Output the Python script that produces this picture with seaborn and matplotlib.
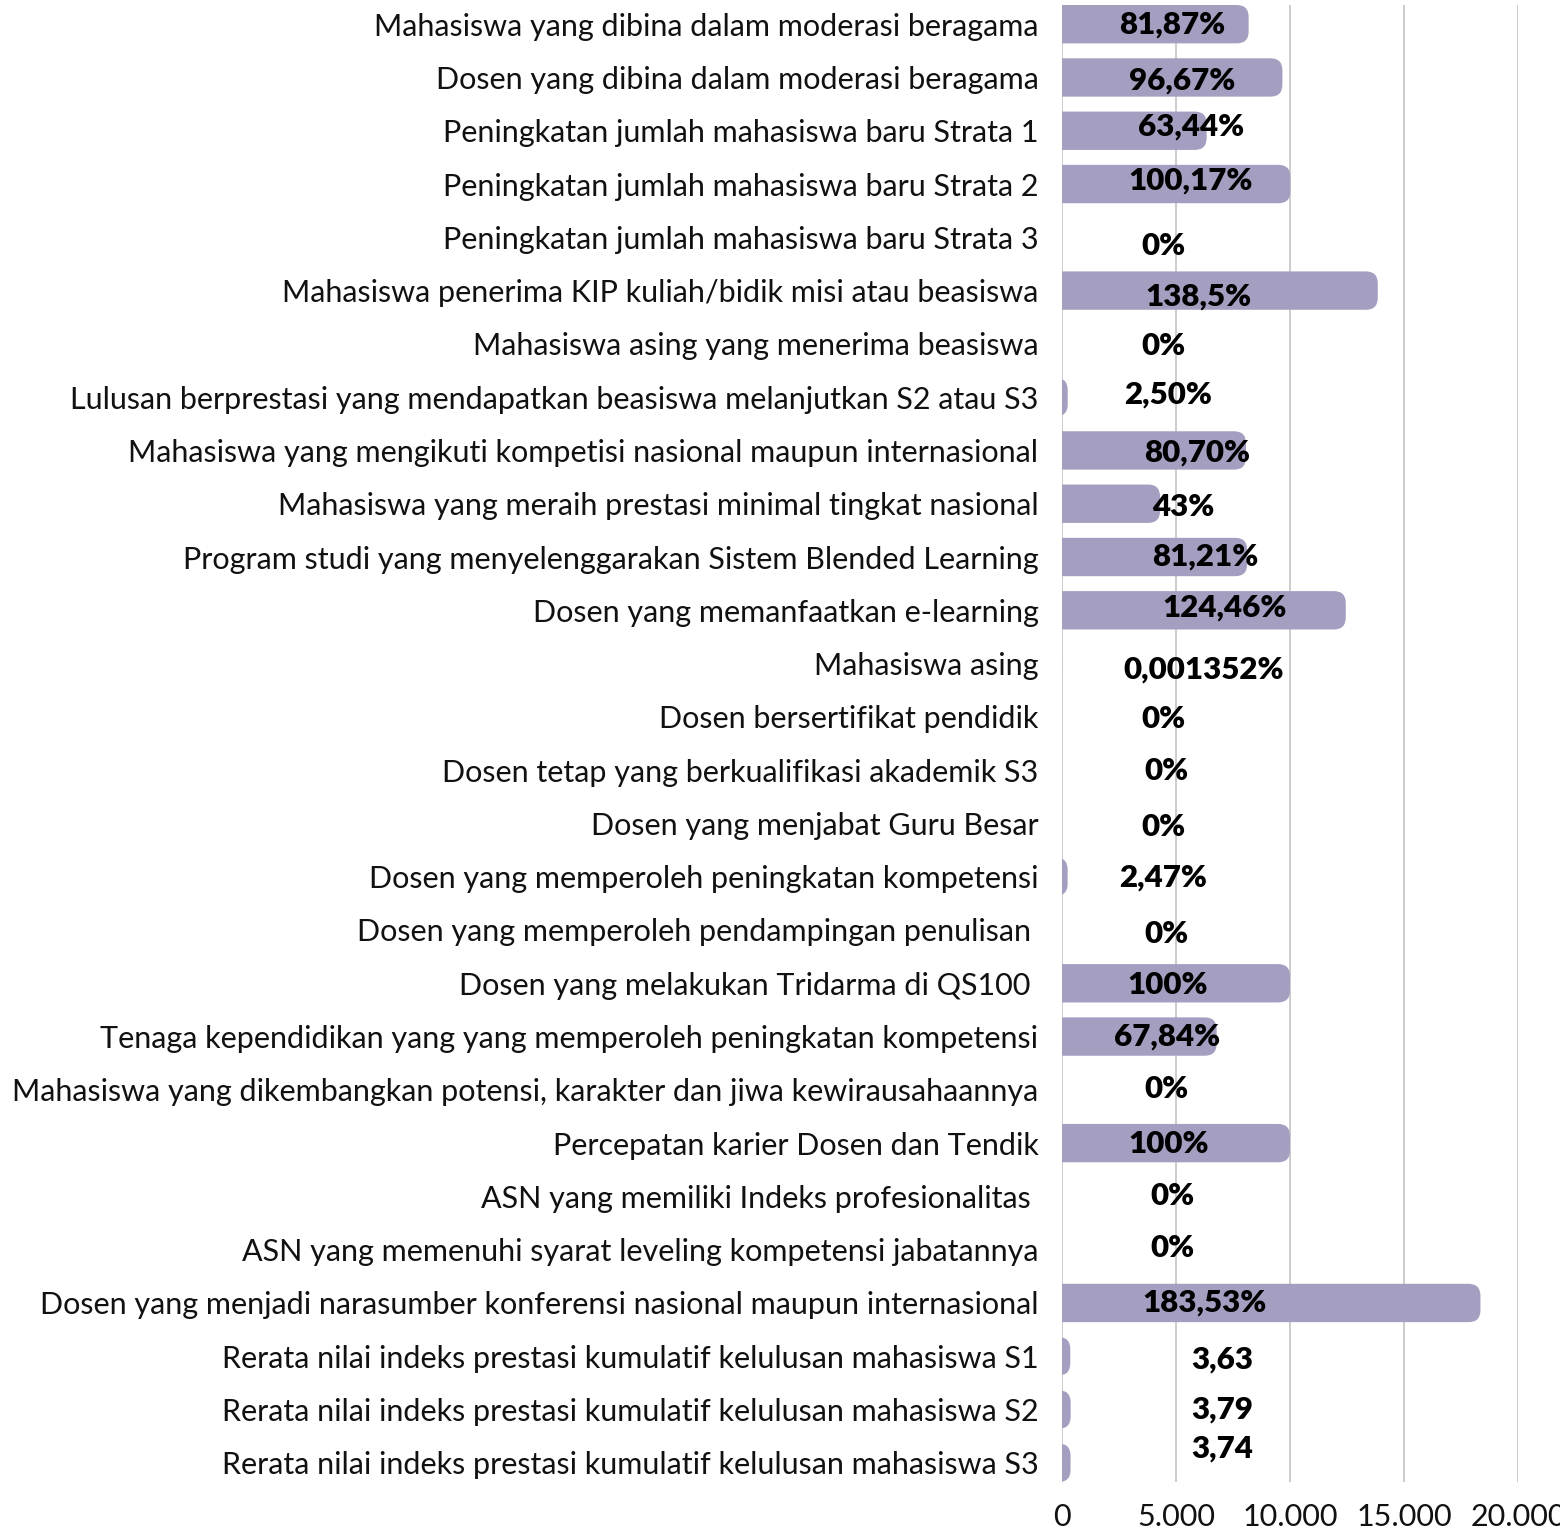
import pandas as pd
import numpy as np
import matplotlib
matplotlib.use('Agg')
import matplotlib.pyplot as plt
from matplotlib.patches import FancyBboxPatch
import seaborn as sns

# Indicator names (top to bottom)
categories = [
    'Mahasiswa yang dibina dalam moderasi beragama',
    'Dosen yang dibina dalam moderasi beragama',
    'Peningkatan jumlah mahasiswa baru Strata 1',
    'Peningkatan jumlah mahasiswa baru Strata 2',
    'Peningkatan jumlah mahasiswa baru Strata 3',
    'Mahasiswa penerima KIP kuliah/bidik misi atau beasiswa',
    'Mahasiswa asing yang menerima beasiswa',
    'Lulusan berprestasi yang mendapatkan beasiswa melanjutkan S2 atau S3',
    'Mahasiswa yang mengikuti kompetisi nasional maupun internasional',
    'Mahasiswa yang meraih prestasi minimal tingkat nasional',
    'Program studi yang menyelenggarakan Sistem Blended Learning',
    'Dosen yang memanfaatkan e-learning',
    'Mahasiswa asing',
    'Dosen bersertifikat pendidik',
    'Dosen tetap yang berkualifikasi akademik S3',
    'Dosen yang menjabat Guru Besar',
    'Dosen yang memperoleh peningkatan kompetensi',
    'Dosen yang memperoleh pendampingan penulisan ',
    'Dosen yang melakukan Tridarma di QS100 ',
    'Tenaga kependidikan yang yang memperoleh peningkatan kompetensi',
    'Mahasiswa yang dikembangkan potensi, karakter dan jiwa kewirausahaannya',
    'Percepatan karier Dosen dan Tendik',
    'ASN yang memiliki Indeks profesionalitas ',
    'ASN yang memenuhi syarat leveling kompetensi jabatannya',
    'Dosen yang menjadi narasumber konferensi nasional maupun internasional',
    'Rerata nilai indeks prestasi kumulatif kelulusan mahasiswa S1',
    'Rerata nilai indeks prestasi kumulatif kelulusan mahasiswa S2',
    'Rerata nilai indeks prestasi kumulatif kelulusan mahasiswa S3',
]

# Bar lengths on the chart's axis (value x 100)
values = [8187, 9667, 6344, 10017, 0, 13850, 0, 250, 8070, 4300, 8121, 12446,
          0.1352, 0, 0, 0, 247, 0, 10000, 6784, 0, 10000, 0, 0, 18353,
          363, 379, 374]

# Text shown on each bar
value_labels = ['81,87%', '96,67%', '63,44%', '100,17%', '0%', '138,5%', '0%',
                '2,50%', '80,70%', '43%', '81,21%', '124,46%', '0,001352%',
                '0%', '0%', '0%', '2,47%', '0%', '100%', '67,84%', '0%',
                '100%', '0%', '0%', '183,53%', '3,63', '3,79', '3,74']

x_ticks = [0, 5000, 10000, 15000, 20000]
x_tick_labels = ['0', '5.000', '10.000', '15.000', '20.000']

# Where the value labels sit (label centre on x axis, vertical nudge in rows)
label_x = [4825, 5265, 5660, 5660, 4430, 5965, 4430, 4650, 5920, 5305, 6270,
           7150, 6230, 4430, 4605, 4430, 4430, 4605, 4650, 4605, 4605, 4695,
           4825, 4825, 6270, 7020, 7020, 7020]
label_dy = [0, 0.06, -0.08, -0.06, 0.17, 0.11, 0.04, -0.04, 0.04, 0.06, 0,
            -0.06, 0.11, 0.04, 0.02, 0.06, 0.02, 0.08, 0.04, 0, -0.02, 0.02,
            0, -0.04, 0, 0.06, 0, -0.26]

bar_color = '#a49ec0'

df = pd.DataFrame({'Indikator': categories, 'Nilai': values})

sns.set_style('white')
plt.rcParams['font.family'] = ['Lato', 'DejaVu Sans']

fig = plt.figure(figsize=(15.6, 15.28), dpi=100)
ax = fig.add_axes([1062 / 1560, 1 - 1482 / 1528, 456 / 1560, 1477 / 1528])

sns.barplot(data=df, x='Nilai', y='Indikator', orient='h', color=bar_color,
            width=0.72, saturation=1, ax=ax, zorder=2)

n = len(categories)
ax.set_xlim(0, 20000)
ax.set_ylim(n - 1 + 0.36, -0.36)

# swap the flat bars for bars with a rounded right end
p0 = ax.transData.transform((0, 0))
px_x = ax.transData.transform((1, 0))[0] - p0[0]
px_y = abs(ax.transData.transform((0, 1))[1] - p0[1])
r_px = 12
rx = r_px / px_x
ry = r_px / px_y
for p in list(ax.patches):
    x0, y0 = p.get_x(), p.get_y()
    w, h = p.get_width(), p.get_height()
    p.remove()
    if w <= 0:
        continue
    ax.add_patch(FancyBboxPatch((x0 - 2 * rx, y0), w + 2 * rx, h,
                                boxstyle=f'round,pad=0,rounding_size={rx}',
                                mutation_aspect=ry / rx, facecolor=bar_color,
                                edgecolor='none', zorder=2))

for i, lab in enumerate(value_labels):
    ax.text(label_x[i], i + label_dy[i], lab, ha='center', va='center',
            fontsize=22.5, fontweight='heavy', color='black', zorder=3)

ax.set_xticks(x_ticks)
ax.set_xticklabels(x_tick_labels)
ax.xaxis.grid(True, color='#c8c8c8', linewidth=1.3, zorder=0)
ax.yaxis.grid(False)
ax.set_axisbelow(True)
ax.tick_params(axis='y', length=0, pad=17, labelsize=22, labelcolor='#111111')
ax.tick_params(axis='x', length=0, pad=15, labelsize=22, labelcolor='#111111')
ax.set_xlabel('')
ax.set_ylabel('')
sns.despine(ax=ax, left=True, bottom=True)

plt.savefig('out.png', dpi=100)
